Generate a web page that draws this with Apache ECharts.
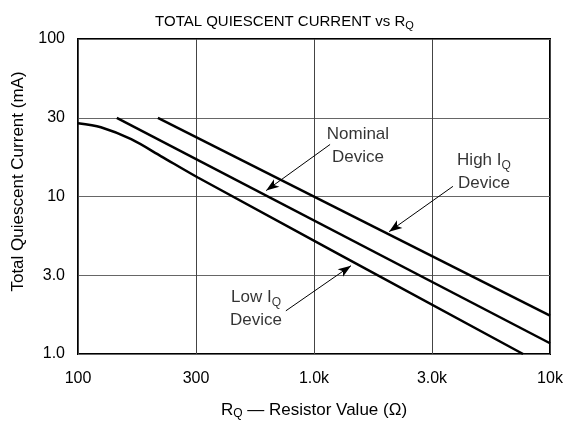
<!DOCTYPE html>
<html>
<head>
<meta charset="utf-8">
<script src="https://cdn.jsdelivr.net/npm/echarts@6/dist/echarts.min.js"></script>
<style>
    html, body {margin: 0; padding: 0; background: #fff;}
    #chart {width: 569px; height: 426px;}
</style>
</head>
<body>
<div id="chart"></div>
<script>
    // axis ticks (log10 positions) and their printed labels
    const xTickPos = [2, 2.5, 3, 3.5, 4];
    const xTickLabels = ['100', '300', '1.0k', '3.0k', '10k'];
    const yTickPos = [0, 0.5, 1, 1.5, 2];
    const yTickLabels = ['1.0', '3.0', '10', '30', '100'];

    // curves: R in ohms, I in mA
    const resLow = [100, 125, 168, 225, 322, 7690];
    const curLow = [29.2, 27.5, 23.1, 18.0, 13.2, 1.0];
    const resNom = [146, 10000];
    const curNom = [31.6, 1.17];
    const resHigh = [218, 10000];
    const curHigh = [31.6, 1.75];

    // callouts
    const noteText = ['Nominal\nDevice', 'High I{sub|Q}\nDevice', 'Low I{sub|Q}\nDevice'];
    const noteRes = [1535, 5250, 568];
    const noteCur = [21.1, 14.4, 1.93];
    const arrowFromRes = [1170, 3880, 760];
    const arrowFromCur = [21.4, 11.6, 1.88];
    const arrowToRes = [627, 2080, 1435];
    const arrowToCur = [10.9, 5.98, 3.64];

    const lg = Math.log10;
    const toPts = (r, c) => r.map((v, i) => [lg(v), lg(c[i])]);
    const font = 'Liberation Sans, Arial, sans-serif';
    const subRich = (size, pad) => ({sub: {fontSize: size, verticalAlign: 'bottom', padding: [pad, 0, 0, 0], fontFamily: font, color: '#000'}});

    const tickFmt = (pos, labels) => v => {
        const k = pos.findIndex(p => Math.abs(p - v) < 1e-6);
        return k < 0 ? '' : labels[k];
    };

    const curve = (name, data, smooth) => ({
        name: name, type: 'line', data: data, symbol: 'none', smooth: smooth,
        lineStyle: {color: '#000', width: 2.5}, z: 5, silent: true
    });

    const chart = echarts.init(document.getElementById('chart'), null, {renderer: 'canvas'});
    chart.setOption({
        animation: false,
        textStyle: {fontFamily: font},
        title: {
            text: 'TOTAL QUIESCENT CURRENT vs R{sub|Q}',
            left: 'center', top: 8,
            textStyle: {fontSize: 15, fontWeight: 'normal', color: '#000', fontFamily: font, rich: subRich(11, 7)}
        },
        grid: {left: 78, right: 19, top: 39, bottom: 72, show: true, borderColor: '#000', borderWidth: 2, backgroundColor: '#fff'},
        xAxis: {
            type: 'value', min: 2, max: 4, interval: 0.5,
            name: 'R{sub|Q} — Resistor Value (Ω)', nameLocation: 'middle', nameGap: 46,
            nameTextStyle: {fontSize: 17, color: '#000', fontFamily: font, rich: subRich(12, 8)},
            axisLine: {show: false}, axisTick: {show: false},
            axisLabel: {color: '#000', fontSize: 16, margin: 17, formatter: tickFmt(xTickPos, xTickLabels)},
            splitLine: {show: true, lineStyle: {color: '#444', width: 1}}
        },
        yAxis: {
            type: 'value', min: 0, max: 2, interval: 0.5,
            name: 'Total Quiescent Current (mA)', nameLocation: 'middle', nameGap: 51,
            nameTextStyle: {fontSize: 17, color: '#000', fontFamily: font, padding: [0, 0, 0, 30]},
            axisLine: {show: false}, axisTick: {show: false},
            axisLabel: {color: '#000', fontSize: 16, margin: 13, formatter: tickFmt(yTickPos, yTickLabels)},
            splitLine: {show: true, lineStyle: {color: '#666', width: 1}}
        },
        series: [
            curve('Low IQ', toPts(resLow, curLow), 0.3),
            curve('Nominal', toPts(resNom, curNom), false),
            curve('High IQ', toPts(resHigh, curHigh), false),
            {
                name: 'notes', type: 'scatter', symbolSize: 0, silent: true, z: 6,
                data: noteText.map((t, i) => ({value: [lg(noteRes[i]), lg(noteCur[i])], name: t})),
                label: {
                    show: true, position: 'inside', formatter: p => p.name,
                    fontSize: 17, lineHeight: 23, color: '#000', align: 'center', fontFamily: font,
                    rich: subRich(12, 8)
                },
                markLine: {
                    silent: true, symbol: ['none', 'arrow'], symbolSize: [7, 13],
                    lineStyle: {color: '#000', width: 1, type: 'solid'},
                    label: {show: false},
                    data: arrowFromRes.map((r, i) => [
                        {coord: [lg(r), lg(arrowFromCur[i])]},
                        {coord: [lg(arrowToRes[i]), lg(arrowToCur[i])]}
                    ])
                }
            }
        ]
    });
</script>
</body>
</html>
